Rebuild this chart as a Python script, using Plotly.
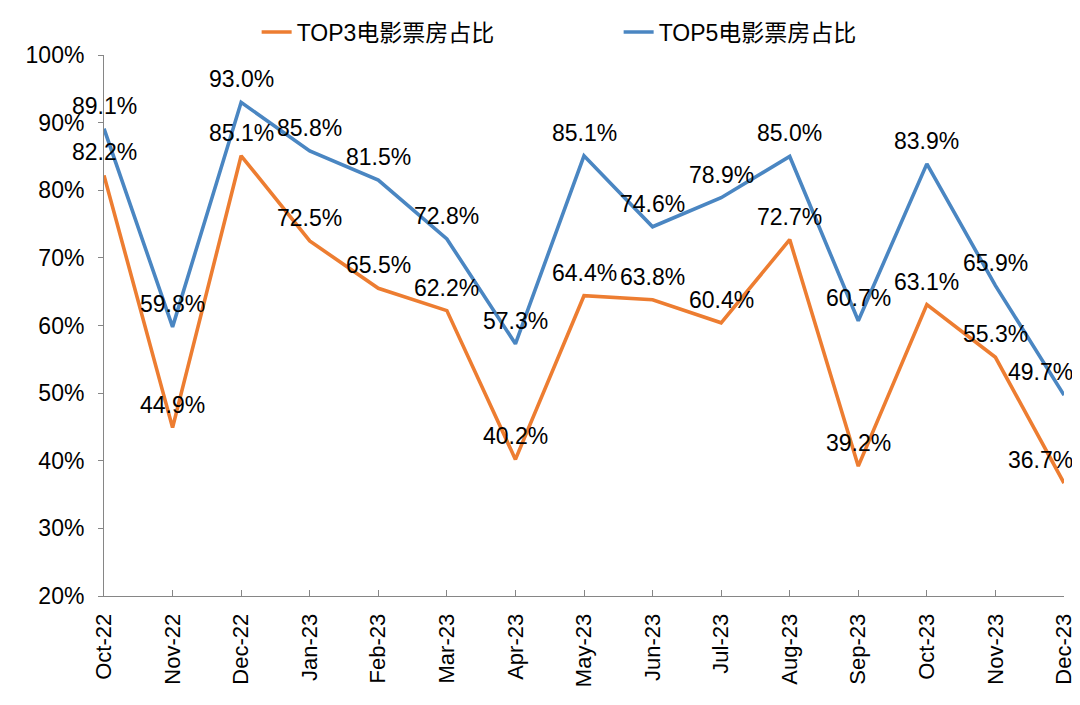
import plotly.graph_objects as go

months = ["Oct-22", "Nov-22", "Dec-22", "Jan-23", "Feb-23", "Mar-23", "Apr-23", "May-23",
          "Jun-23", "Jul-23", "Aug-23", "Sep-23", "Oct-23", "Nov-23", "Dec-23"]
top3 = [82.2, 44.9, 85.1, 72.5, 65.5, 62.2, 40.2, 64.4, 63.8, 60.4, 72.7, 39.2, 63.1, 55.3, 36.7]
top5 = [89.1, 59.8, 93.0, 85.8, 81.5, 72.8, 57.3, 85.1, 74.6, 78.9, 85.0, 60.7, 83.9, 65.9, 49.7]
name3 = "TOP3电影票房占比"
name5 = "TOP5电影票房占比"
y_ticks = [20, 30, 40, 50, 60, 70, 80, 90, 100]
y_tick_text = [f"{t}%" for t in y_ticks]

ORANGE = "#ED7D31"
BLUE = "#4A86C2"
FONT = "Liberation Sans, Arial, Noto Sans CJK SC, sans-serif"

fig = go.Figure()
fig.add_trace(go.Scatter(x=months, y=top3, mode="lines", name=name3,
                         line=dict(color=ORANGE, width=3.6)))
fig.add_trace(go.Scatter(x=months, y=top5, mode="lines", name=name5,
                         line=dict(color=BLUE, width=3.6)))

annots = []
for series in (top3, top5):
    for i, (m, v) in enumerate(zip(months, series)):
        xs = -24 if i == len(months) - 1 else 0
        annots.append(dict(x=m, y=v, text=f"{v:.1f}%", showarrow=False,
                           xshift=xs, yshift=23, yanchor="middle", xanchor="center",
                           font=dict(size=23, color="#000000", family=FONT)))

fig.update_layout(
    width=1072, height=689,
    margin=dict(l=96, r=16, t=47, b=101, autoexpand=False),
    paper_bgcolor="white", plot_bgcolor="white",
    font=dict(family=FONT, size=23, color="#000000"),
    annotations=annots,
    showlegend=True,
    legend=dict(orientation="h", x=0.159, xanchor="left", y=1.0425, yanchor="middle",
                font=dict(size=23, family=FONT), entrywidth=317, entrywidthmode="pixels",
                itemwidth=30, bgcolor="rgba(0,0,0,0)"),
    xaxis=dict(type="category", categoryorder="array", categoryarray=months,
               range=[0, len(months) - 1], showgrid=False, zeroline=False,
               showline=True, linecolor="#868686", linewidth=1, automargin=False,
               ticks="inside", ticklen=6, tickcolor="#868686",
               tickangle=-90, tickfont=dict(size=22), ticklabelstandoff=8),
    yaxis=dict(range=[20, 100], tickvals=y_ticks, ticktext=y_tick_text, showgrid=False,
               zeroline=False, showline=True, linecolor="#868686", linewidth=1,
               automargin=False,
               ticks="outside", ticklen=5, tickcolor="#868686",
               tickfont=dict(size=23), ticklabelstandoff=9),
)

fig.write_html("out.html")
